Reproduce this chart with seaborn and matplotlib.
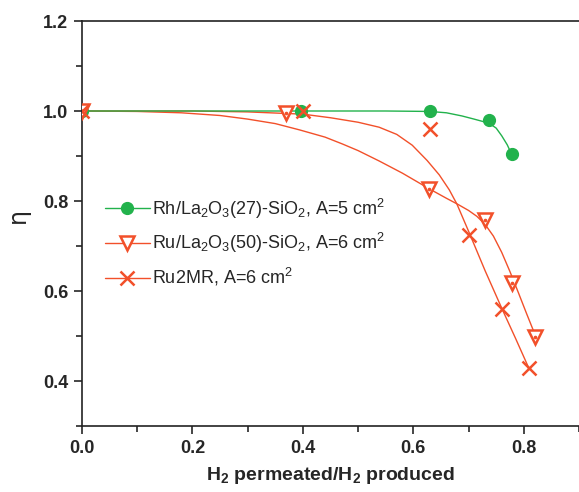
import matplotlib
matplotlib.use("Agg")
import matplotlib.pyplot as plt
from matplotlib.lines import Line2D
import seaborn as sns

# ---- data ----
rh_x = [0.0, 0.397, 0.630, 0.737, 0.778]
rh_y = [1.0, 1.0, 1.0, 0.980, 0.904]

ru50_x = [0.0, 0.370, 0.629, 0.730, 0.779, 0.820]
ru50_y = [1.0, 0.995, 0.827, 0.758, 0.618, 0.498]

ru2_x = [0.0, 0.400, 0.630, 0.701, 0.760, 0.809]
ru2_y = [1.0, 1.0, 0.960, 0.724, 0.561, 0.429]

# fitted curves as drawn in the reference
rh_fit_x = [0.0, 0.2, 0.4, 0.55, 0.63, 0.66, 0.688, 0.71, 0.737, 0.75, 0.76, 0.77, 0.778]
rh_fit_y = [1.0, 1.0, 1.0, 1.0, 0.999, 0.996, 0.989, 0.982, 0.973, 0.962, 0.945, 0.925, 0.904]

ru50_fit_x = [0.0, 0.1, 0.18, 0.25, 0.30, 0.35, 0.394, 0.44, 0.471, 0.50, 0.538, 0.58,
              0.629, 0.66, 0.68, 0.70, 0.715, 0.73, 0.745, 0.76, 0.775, 0.79, 0.805, 0.822]
ru50_fit_y = [1.0, 0.999, 0.996, 0.99, 0.982, 0.972, 0.958, 0.942, 0.927, 0.912, 0.889, 0.862,
              0.827, 0.806, 0.793, 0.779, 0.766, 0.748, 0.722, 0.686, 0.643, 0.597, 0.550, 0.498]

ru2_fit_x = [0.0, 0.2, 0.3, 0.40, 0.45, 0.50, 0.538, 0.57, 0.598, 0.625, 0.647, 0.665,
             0.679, 0.701, 0.73, 0.76, 0.785, 0.809]
ru2_fit_y = [1.0, 1.0, 0.998, 0.993, 0.985, 0.975, 0.964, 0.948, 0.924, 0.89, 0.858, 0.825,
             0.793, 0.73, 0.645, 0.562, 0.495, 0.429]

labels = ["Rh/La$_2$O$_3$(27)-SiO$_2$, A=5 cm$^2$",
          "Ru/La$_2$O$_3$(50)-SiO$_2$, A=6 cm$^2$",
          "Ru2MR, A=6 cm$^2$"]
x_ticks = [0.0, 0.2, 0.4, 0.6, 0.8]
y_ticks = [0.4, 0.6, 0.8, 1.0, 1.2]

GREEN = "#22b24c"
ORANGE = "#f2502a"

sns.set_style("ticks")
plt.rcParams["font.family"] = ["Liberation Sans", "DejaVu Sans"]
plt.rcParams["mathtext.default"] = "regular"

fig = plt.figure(figsize=(5.79, 4.92), dpi=100)
ax = fig.add_axes([82 / 579, 1 - 426 / 492, 1 - 82 / 579, (426 - 21) / 492])

# curves
sns.lineplot(x=ru50_fit_x, y=ru50_fit_y, ax=ax, color=ORANGE, lw=1.0, sort=False)
sns.lineplot(x=ru2_fit_x, y=ru2_fit_y, ax=ax, color=ORANGE, lw=1.0, sort=False)
sns.lineplot(x=rh_fit_x, y=rh_fit_y, ax=ax, color=GREEN, lw=1.0, sort=False)

# markers
ax.plot(rh_x, rh_y, ls="none", marker="o", ms=8.5, mfc=GREEN, mec=GREEN, zorder=5)
ax.plot(ru50_x, ru50_y, ls="none", marker="v", ms=9.5, mfc="white", mec=ORANGE, mew=1.8, zorder=5)
ax.plot(ru50_x, ru50_y, ls="none", marker="o", ms=1.6, mfc=ORANGE, mec=ORANGE, zorder=6)
ax.plot(ru2_x, ru2_y, ls="none", marker="x", ms=10, mec=ORANGE, mew=1.8, zorder=5)

ax.set_xlim(0.0, 0.9)
ax.set_ylim(0.3, 1.2)
ax.set_xticks(x_ticks)
ax.set_yticks(y_ticks)
ax.set_xticks([0.1, 0.3, 0.5, 0.7, 0.9], minor=True)
ax.set_yticks([0.3, 0.5, 0.7, 0.9, 1.1], minor=True)
ax.set_xticklabels([f"{v:.1f}" for v in x_ticks], fontweight="bold", fontsize=13)
ax.set_yticklabels([f"{v:.1f}" for v in y_ticks], fontweight="bold", fontsize=13)
ax.tick_params(which="major", direction="out", length=6, width=1.2, pad=4)
ax.tick_params(which="minor", direction="out", length=4, width=1.2)

for s in ["left", "bottom", "top"]:
    ax.spines[s].set_visible(True)
    ax.spines[s].set_linewidth(1.2)
    ax.spines[s].set_color("#222222")
ax.spines["right"].set_visible(False)

ax.set_xlabel("H$_2$ permeated/H$_2$ produced", fontweight="bold", fontsize=14, labelpad=6)
ax.set_ylabel("η", fontsize=17, family="DejaVu Sans")
ax.yaxis.set_label_coords(-0.105, 0.52)

handles = [
    Line2D([], [], color=GREEN, lw=1.0, marker="o", ms=8.5, mfc=GREEN, mec=GREEN),
    Line2D([], [], color=ORANGE, lw=1.0, marker="v", ms=9.5, mfc="white", mec=ORANGE, mew=1.8),
    Line2D([], [], color=ORANGE, lw=1.0, marker="x", ms=10, mec=ORANGE, mew=1.8),
]
ax.legend(handles, labels, loc="upper left", bbox_to_anchor=(0.02, 0.598), frameon=False,
          fontsize=13, handlelength=2.5, handletextpad=0.15, labelspacing=0.6,
          borderaxespad=0.3)

fig.savefig("out.png", dpi=100)
